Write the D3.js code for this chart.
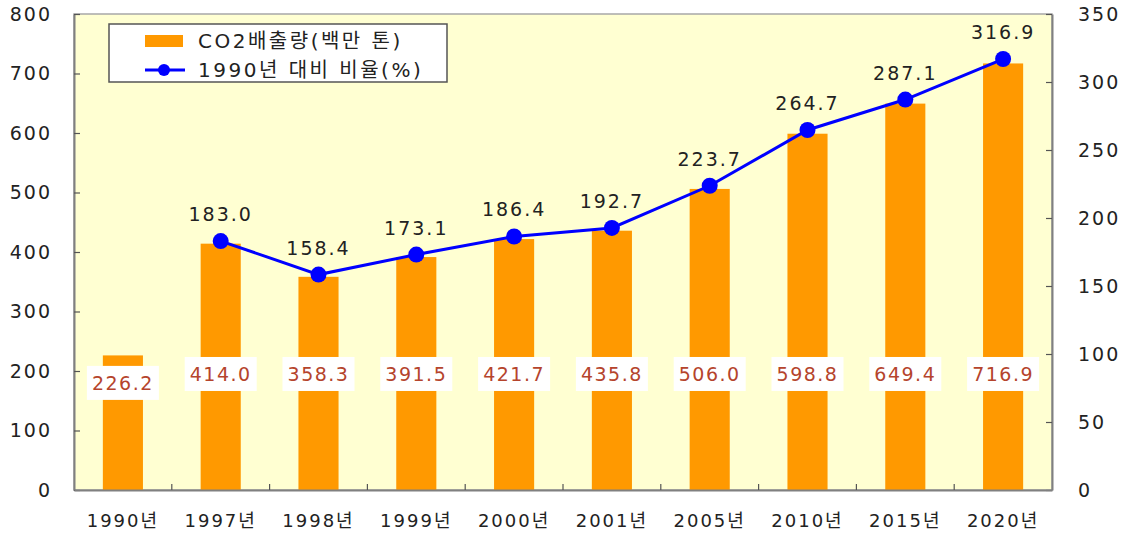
<!DOCTYPE html>
<html><head><meta charset="utf-8">
<script src="https://cdn.jsdelivr.net/npm/d3@7"></script>
<style>
body{margin:0;background:#fff;}
text{font-family:"DejaVu Sans","Noto Sans CJK KR",sans-serif;}
</style></head>
<body><svg id="c" width="1125" height="535"></svg>
<script>
const categories = ["1990년","1997년","1998년","1999년","2000년","2001년","2005년","2010년","2015년","2020년"];
const emissions = [226.2,414.0,358.3,391.5,421.7,435.8,506.0,598.8,649.4,716.9];
const ratios = [null,183.0,158.4,173.1,186.4,192.7,223.7,264.7,287.1,316.9];
const leftTicks = [0,100,200,300,400,500,600,700,800];
const rightTicks = [0,50,100,150,200,250,300,350];
const legendLabels = ["CO2배출량(백만 톤)","1990년 대비 비율(%)"];

const svg = d3.select("#c");
const L=74,R=1052,T=14,B=490;
const x = d3.scaleBand().domain(categories).range([L,R]).paddingInner(0.59).paddingOuter(0.295);
const yL = d3.scaleLinear().domain([0,800]).range([B,T]);
const yR = d3.scaleLinear().domain([0,350]).range([B,T]);

svg.append("rect").attr("x",L).attr("y",T).attr("width",R-L).attr("height",B-T)
  .attr("fill","#ffffd2").attr("stroke","#a8a8a8").attr("stroke-width",1.5);

// bars
svg.selectAll(".bar").data(emissions).join("rect")
  .attr("x",(d,i)=>x(categories[i])).attr("width",x.bandwidth())
  .attr("y",d=>yL(d)).attr("height",d=>B-yL(d)).attr("fill","#ff9900");

// axes
const axL = svg.append("g").attr("transform",`translate(${L},0)`)
  .call(d3.axisLeft(yL).tickValues(leftTicks).tickSizeInner(-6).tickSizeOuter(0).tickPadding(22));
const axR = svg.append("g").attr("transform",`translate(${R},0)`)
  .call(d3.axisRight(yR).tickValues(rightTicks).tickSizeInner(-6).tickSizeOuter(0).tickPadding(26));
const axB = svg.append("g").attr("transform",`translate(0,${B})`)
  .call(d3.axisBottom(x).tickSize(0).tickPadding(24));
[axL,axR,axB].forEach(a=>{
  a.select(".domain").attr("stroke","#808080").attr("stroke-width",2);
  a.selectAll(".tick line").attr("stroke","#555").attr("stroke-width",1.2);
  a.selectAll(".tick text").attr("font-size",19).attr("fill","#222")
    .style("font-family",'"DejaVu Sans","Noto Sans CJK KR",sans-serif').attr("letter-spacing","2px");
});
axB.selectAll(".tick text").attr("font-size",18).attr("letter-spacing","2px");
// category separator ticks
const step = x.step();
svg.append("g").selectAll("line").data(categories.slice(1)).join("line")
  .attr("x1",d=>x(d)-(step-x.bandwidth())/2).attr("x2",d=>x(d)-(step-x.bandwidth())/2)
  .attr("y1",B).attr("y2",B-6).attr("stroke","#555").attr("stroke-width",1.2);

// bar value labels
const lbl = svg.append("g").selectAll("g").data(emissions).join("g")
  .attr("transform",(d,i)=>`translate(${x(categories[i])+x.bandwidth()/2},${i===0?yL(180):yL(195)})`);
lbl.append("rect").attr("x",-36).attr("y",-17).attr("width",72).attr("height",34).attr("fill","#fff");
lbl.append("text").attr("text-anchor","middle").attr("dy","0.36em").attr("font-size",19)
  .attr("fill","#b5442c").attr("letter-spacing","1.5px").text(d=>d.toFixed(1));

// line
const pts = ratios.map((v,i)=>({v,c:categories[i]})).filter(d=>d.v!==null);
const cx = d=>x(d.c)+x.bandwidth()/2;
svg.append("path").datum(pts).attr("fill","none").attr("stroke","#0000ff").attr("stroke-width",3)
  .attr("d",d3.line().x(cx).y(d=>yR(d.v)));
svg.selectAll(".dot").data(pts).join("circle").attr("cx",cx).attr("cy",d=>yR(d.v)).attr("r",8).attr("fill","#0000ff");
svg.selectAll(".rl").data(pts).join("text").attr("x",cx).attr("y",d=>yR(d.v)-20)
  .attr("text-anchor","middle").attr("font-size",19).attr("fill","#222").attr("letter-spacing","2px")
  .text(d=>d.v.toFixed(1));

// legend
const lg = svg.append("g");
lg.append("rect").attr("x",109).attr("y",24).attr("width",338).attr("height",58)
  .attr("fill","#fff").attr("stroke","#555").attr("stroke-width",1.5);
lg.append("rect").attr("x",145).attr("y",35).attr("width",38).attr("height",12).attr("fill","#ff9900");
lg.append("line").attr("x1",145).attr("x2",185).attr("y1",70).attr("y2",70).attr("stroke","#0000ff").attr("stroke-width",3);
lg.append("circle").attr("cx",164).attr("cy",70).attr("r",6).attr("fill","#0000ff");
lg.selectAll(".lt").data(legendLabels).join("text").attr("x",198).attr("y",(d,i)=>41+i*29)
  .attr("dy","0.36em").attr("font-size",20).attr("fill","#222").attr("letter-spacing","2.5px").text(d=>d);
</script></body></html>
